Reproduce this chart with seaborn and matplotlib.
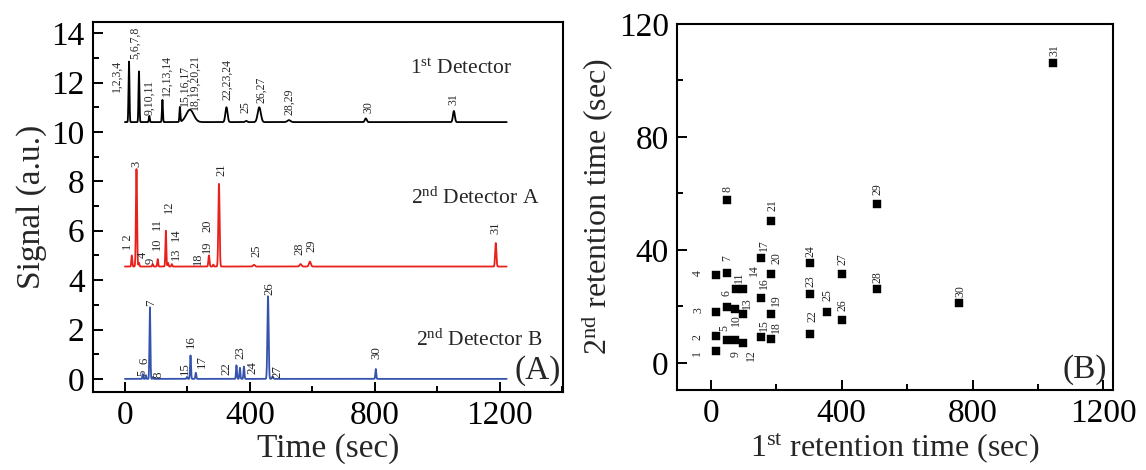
import numpy as np
import pandas as pd
import matplotlib
matplotlib.use("Agg")
import matplotlib.pyplot as plt
from matplotlib.ticker import MultipleLocator
import seaborn as sns

# ---------------- chromatogram peaks (time in s, height above baseline, sigma in s)
det1_baseline = 10.4
det1_times = [13, 45, 78, 120, 176, 208, 325, 388, 430, 525, 771, 1053]
det1_heights = [2.45, 2.05, 0.25, 0.9, 0.6, 0.5, 0.6, 0.05, 0.6, 0.08, 0.15, 0.45]
det1_sigmas = [1.5, 1.5, 1.5, 1.5, 1.5, 12, 3.5, 3, 5, 5, 3, 3]

detA_baseline = 4.55
detA_times = [22, 37, 45, 89, 105, 131, 138, 150, 269, 283, 301, 413, 562, 592, 1187]
detA_heights = [0.45, 3.95, 0.15, 0.1, 0.3, 1.45, 0.15, 0.1, 0.45, 0.08, 3.35, 0.07, 0.1, 0.2, 0.95]
detA_sigmas = [1.5, 1.8, 1.5, 1.5, 1.5, 1.5, 1.5, 1.5, 1.8, 1.5, 2, 3, 3, 3, 2]

detB_baseline = 0.0
detB_times = [57, 67, 80, 90, 199, 210, 227, 357, 368, 381, 458, 473, 803]
detB_heights = [0.2, 0.15, 2.9, 0.08, 0.08, 0.95, 0.25, 0.55, 0.45, 0.5, 3.35, 0.1, 0.4]
detB_sigmas = [1.2, 1.2, 1.5, 1.2, 1.5, 1.5, 1.5, 1.5, 1.5, 1.5, 2, 2, 1.5]

# ---------------- peak annotations (text, time, y of label bottom)
det1_labels = ["1,2,3,4", "5,6,7,8", "9,10,11", "12,13,14", "15,16,17", "18,19,20,21",
               "22,23,24", "25", "26,27", "28,29", "30", "31"]
det1_label_t = [-26, 32, 77, 134, 192, 224, 326, 387, 435, 525, 778, 1053]
det1_label_y = [11.55, 12.9, 10.65, 11.4, 11.0, 10.85, 11.25, 10.73, 11.14, 10.65, 10.73, 11.06]

detA_labels = ["1 2", "3", "4", "9", "10", "11", "12", "13", "14", "18", "19", "20",
               "21", "25", "28", "29", "31"]
detA_label_t = [10, 37, 57, 83, 101, 101, 141, 163, 163, 234, 264, 264, 310, 421, 560, 598, 1187]
detA_label_y = [5.15, 8.55, 4.85, 4.6, 5.15, 6.0, 6.65, 4.75, 5.55, 4.55, 5.05, 5.9,
                8.15, 4.9, 4.95, 5.1, 5.8]

detB_labels = ["5", "6", "7", "8", "15", "16", "17", "22", "23", "24", "26", "27", "30"]
detB_label_t = [54, 64, 85, 109, 192, 210, 246, 325, 371, 407, 461, 489, 806]
detB_label_y = [0.05, 0.55, 2.9, 0.0, 0.1, 1.2, 0.4, 0.1, 0.75, 0.15, 3.35, 0.0, 0.75]

# ---------------- 2D retention times of the 31 compounds
compound_ids = list(range(1, 32))
rt1 = [15, 15, 15, 15, 49, 49, 49, 49, 73, 73, 77, 98, 98, 98, 153, 153, 153,
       184, 184, 184, 184, 303, 303, 303, 355, 401, 401, 508, 508, 759, 1047]
rt2 = [4.2, 9.6, 18.0, 31.0, 8.1, 19.8, 31.8, 57.7, 8.1, 19.1, 26.2, 7.1, 17.3, 26.2,
       9.2, 23.1, 37.2, 8.5, 17.3, 31.4, 50.3, 10.3, 24.4, 35.4, 18.0, 15.2, 31.5,
       26.2, 56.3, 21.2, 106.2]

# label offsets (pixels) relative to each square
lab_dx = [-19, -18, -18, -18, -3, -1, 0, 0, 1, 1, 3, 8, 4, 11, 3, 3, 3,
          5, 5, 5, 1, 2, 0, 0, 0, 0, 0, 0, 0, 1, 1]
lab_dy = [-2, -1, 2, 2, 12, 14, 15, 11, -14, -11, 12, -12, 11, 19, 12, 15, 13,
          12, 14, 16, 16, 18, 13, 12, 17, 15, 15, 12, 15, 12, 13]


def trace(baseline, times, heights, sigmas, t):
    y = np.full_like(t, baseline, dtype=float)
    for c, h, s in zip(times, heights, sigmas):
        y += h * np.exp(-0.5 * ((t - c) / s) ** 2)
    return y


sns.set_theme(style="ticks")
plt.rcParams["font.family"] = ["Liberation Serif", "DejaVu Serif"]
plt.rcParams["mathtext.fontset"] = "custom"
plt.rcParams["mathtext.rm"] = "Liberation Serif"
plt.rcParams["mathtext.it"] = "Liberation Serif:italic"

fig = plt.figure(figsize=(11.46, 4.70), dpi=100)
axA = fig.add_axes([0.0812, 0.166, 0.410, 0.787])
axB = fig.add_axes([0.5908, 0.170, 0.3805, 0.779])

t = np.linspace(0, 1222, 6000)
traces = [
    (det1_baseline, det1_times, det1_heights, det1_sigmas, "black"),
    (detA_baseline, detA_times, detA_heights, detA_sigmas, "#e8211d"),
    (detB_baseline, detB_times, detB_heights, detB_sigmas, "#3553ad"),
]
for base, tt, hh, ss, col in traces:
    df = pd.DataFrame({"time": t, "signal": trace(base, tt, hh, ss, t)})
    sns.lineplot(data=df, x="time", y="signal", ax=axA, color=col, lw=1.3,
                 estimator=None, sort=False)

for labels, lt, ly, fs in [(det1_labels, det1_label_t, det1_label_y, 8.5),
                           (detA_labels, detA_label_t, detA_label_y, 9),
                           (detB_labels, detB_label_t, detB_label_y, 9.3)]:
    for s, x, y in zip(labels, lt, ly):
        axA.text(x, y + 0.05, s, rotation=90, ha="center", va="bottom", fontsize=fs)

axA.text(1078, 12.55, r"1$^{\rm st}$ Detector", ha="center", va="center", fontsize=15.5)
axA.text(1123, 7.33, r"2$^{\rm nd}$ Detector A", ha="center", va="center", fontsize=15.5)
axA.text(1133, 1.58, r"2$^{\rm nd}$ Detector B", ha="center", va="center", fontsize=15.5)
axA.text(0.995, 0.015, "(A)", transform=axA.transAxes, ha="right", va="bottom", fontsize=24)

axA.set_xlim(-102, 1402)
axA.set_ylim(-0.53, 14.45)
axA.xaxis.set_major_locator(MultipleLocator(400))
axA.xaxis.set_minor_locator(MultipleLocator(200))
axA.yaxis.set_major_locator(MultipleLocator(2))
axA.yaxis.set_minor_locator(MultipleLocator(1))
axA.set_xlabel("Time (sec)", fontsize=24, labelpad=2)
axA.set_ylabel("Signal (a.u.)", fontsize=24, labelpad=3)

# ---------------- 2D retention map
sc = pd.DataFrame({"rt1": rt1, "rt2": rt2})
sns.scatterplot(data=sc, x="rt1", y="rt2", ax=axB, marker="s", s=40,
                color="black", edgecolor="black", linewidth=0.3)
for cid, x, y, dx, dy in zip(compound_ids, rt1, rt2, lab_dx, lab_dy):
    axB.annotate(str(cid), (x, y), xytext=(dx, dy), textcoords="offset pixels",
                 rotation=90, ha="center", va="center", fontsize=8.5)
axB.text(0.985, 0.015, "(B)", transform=axB.transAxes, ha="right", va="bottom", fontsize=24)

axB.set_xlim(-104, 1230)
axB.set_ylim(-9.6, 120)
axB.xaxis.set_major_locator(MultipleLocator(400))
axB.xaxis.set_minor_locator(MultipleLocator(200))
axB.yaxis.set_major_locator(MultipleLocator(40))
axB.yaxis.set_minor_locator(MultipleLocator(20))
axB.set_xlabel(r"1$^{\rm st}$ retention time (sec)", fontsize=23, labelpad=2)
axB.set_ylabel(r"2$^{\rm nd}$ retention time (sec)", fontsize=23, labelpad=2)

for ax in (axA, axB):
    for sp in ax.spines.values():
        sp.set_visible(True)
        sp.set_linewidth(1.5)
        sp.set_color("black")
    ax.tick_params(which="both", direction="in", width=1.4, colors="black",
                   labelsize=24, pad=6)
    ax.tick_params(which="major", length=7)
    ax.tick_params(which="minor", length=4)

fig.savefig("out.png", dpi=100)
